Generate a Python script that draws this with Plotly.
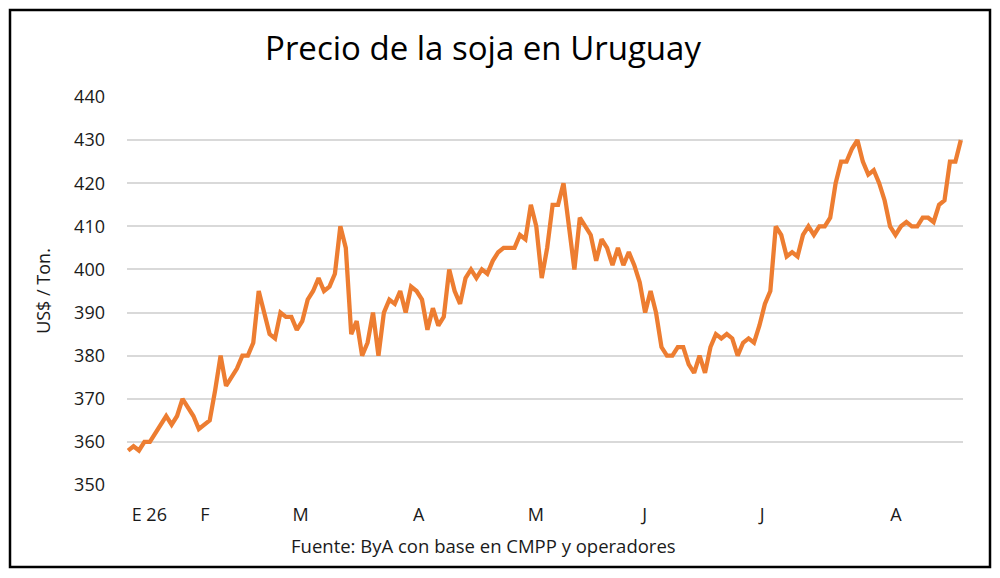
import plotly.graph_objects as go

# precio soja Uruguay, US$/ton, una cotizacion por rueda
PRECIO = [
    358, 359, 358, 360, 360, 362, 364, 366, 364, 366, 370, 368, 366, 363, 364, 365,
    372, 380, 373, 375, 377, 380, 380, 383, 395, 390, 385, 384, 390, 389, 389, 386,
    388, 393, 395, 398, 395, 396, 399, 410, 405, 385, 388, 380, 383, 390, 380,
    390, 393, 392, 395, 390, 396, 395, 393, 386, 391, 387, 389, 400, 395, 392, 398,
    400, 398, 400, 399, 402, 404, 405, 405, 405, 408, 407, 415, 410, 398, 405, 415,
    415, 420, 410, 400, 412, 410, 408, 402, 407, 405, 401, 405, 401, 404, 401, 397,
    390, 395, 390, 382, 380, 380, 382,
    382, 378, 376, 380, 376, 382, 385, 384, 385, 384, 380, 383, 384, 383, 387, 392,
    395, 410, 408, 403, 404, 403, 408, 410, 408, 410, 410, 412, 420, 425, 425, 428,
    430, 425, 422, 423, 420, 416, 410, 408, 410, 411, 410, 410, 412, 412, 411, 415,
    416, 425, 425, 430,
]
RUEDA = list(range(len(PRECIO)))

# etiquetas de mes y la rueda donde caen
MES_POS = [3.9, 14.1, 31.7, 53.4, 74.9, 94.9, 116.5, 141.1]
MES_TXT = ["E 26", "F", "M", "A", "M", "J", "J", "A"]

Y_TICKS = list(range(350, 441, 10))

# la pagina deja 8px de margen al body: la figura va corrida 8px
W, H = 992, 570
L, R, T, B = 119, 37, 89, 93
FONT = "Open Sans"
TXT = "#1a1a1a"

fig = go.Figure(go.Scatter(
    x=RUEDA, y=PRECIO, mode="lines",
    line=dict(color="#ED7D31", width=4.3), hoverinfo="y"))


def px_to_paper(px, py):
    return (px - L) / (W - L - R), 1 - (py - T) / (H - T - B)


x0, y0 = px_to_paper(2, 559)
x1, y1 = px_to_paper(982, 2)

fig.update_layout(
    width=W, height=H, margin=dict(l=L, r=R, t=T, b=B),
    paper_bgcolor="white", plot_bgcolor="white", showlegend=False,
    font=dict(family=FONT, color=TXT, size=18),
    title=dict(text="Precio de la soja en Uruguay", x=475 / W, xanchor="center",
               y=1 - 40 / H, yanchor="middle",
               font=dict(family=FONT, size=33, color="black")),
    xaxis=dict(range=[-0.2, 153.4], tickvals=MES_POS, ticktext=MES_TXT,
               showgrid=False, zeroline=False, showline=False, ticks="",
               ticklabelstandoff=17, tickfont=dict(size=18, color=TXT)),
    yaxis=dict(range=[350, 440], tickvals=Y_TICKS, showgrid=True,
               gridcolor="#d9d9d9", gridwidth=1.5, zeroline=False, ticks="",
               ticklabelstandoff=21, tickfont=dict(size=18, color=TXT),
               title=dict(text="US$ / Ton.", standoff=18,
                          font=dict(size=18, color=TXT))),
    annotations=[dict(text="Fuente: ByA con base en CMPP y operadores",
                      xref="paper", yref="paper", x=px_to_paper(475, 0)[0],
                      y=px_to_paper(0, 537)[1], xanchor="center", yanchor="middle",
                      showarrow=False, font=dict(size=18.5, color=TXT))],
    shapes=[dict(type="rect", xref="paper", yref="paper", x0=x0, y0=y0, x1=x1, y1=y1,
                 line=dict(color="black", width=2.5), layer="below")],
)

fig.write_html("out.html")
